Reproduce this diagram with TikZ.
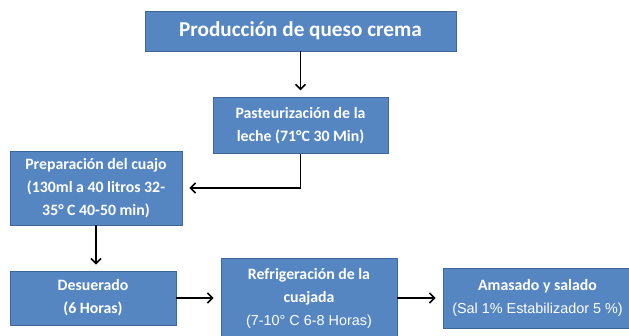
\documentclass[tikz,border=0pt]{standalone}
\usepackage{fontspec}
\setmainfont{Carlito}
\newfontfamily\arialfont{Liberation Sans}
\usepackage{tikz}
\usetikzlibrary{positioning,arrows.meta}

\definecolor{cajaazul}{RGB}{85,134,194}
\definecolor{bordeazul}{RGB}{62,102,150}

\begin{document}
\begin{tikzpicture}[x=1pt, y=-1pt,
                    stepbox/.style={rectangle, draw=bordeazul, fill=cajaazul, line width=0.8pt,
                                    text=white, align=center, inner sep=2pt,
                                    font=\fontsize{15.8}{23}\selectfont\bfseries},
                    flecha/.style={line width=1.6pt, -{Straight Barb[length=5pt,width=10pt]}, shorten >=7pt},
                    node distance=46pt]
  \useasboundingbox (0,0) rectangle (629,335);
  \node[stepbox, minimum width=311pt, minimum height=40pt, font=\fontsize{21.2}{24}\selectfont\bfseries] (titulo) at (300.5,31) {Producción de queso crema};
  \node[stepbox, minimum width=175pt, minimum height=56pt] (pasteur) [below=of titulo] {Pasteurización de la\\leche (71°C 30 Min)};
  \node[stepbox, minimum width=172pt, minimum height=74pt] (cuajo) at (96,188) {Preparación del cuajo\\(130ml a 40 litros 32-\\35° C 40-50 min)};
  \node[stepbox, minimum width=166pt, minimum height=54pt] (desuerado) at (93,298) {Desuerado\\(6 Horas)};
  \node[stepbox, minimum width=176pt, minimum height=80pt] (refrig) at (309,298) {Refrigeración de la\\cuajada\\{\arialfont\mdseries\fontsize{14.4}{23}\selectfont(7-10° C 6-8 Horas)}};
  \node[stepbox, minimum width=189pt, minimum height=60pt] (amasado) at (537.5,298) {Amasado y salado\\{\arialfont\mdseries\fontsize{14.4}{23}\selectfont(Sal 1\% Estabilizador 5 \%)}};
  \draw[flecha] (titulo) -- (pasteur);
  \draw[flecha] (pasteur.south) |- (cuajo.east);
  \draw[flecha, shorten >=6pt] (cuajo) -- (cuajo |- desuerado.north);
  \draw[flecha] (desuerado) -- (refrig);
  \draw[flecha] (refrig) -- (amasado);
\end{tikzpicture}
\end{document}
